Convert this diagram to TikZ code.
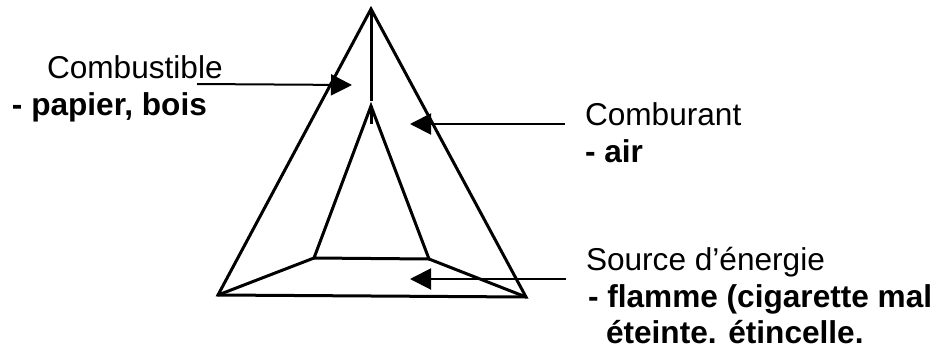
\documentclass[tikz,border=0pt]{standalone}
\usepackage{fontspec}
\setmainfont{Liberation Sans}
\usetikzlibrary{arrows.meta}
\tikzset{
  edge/.style={line width=3pt,line join=miter,draw=black},
  pointer/.style={line width=2pt,draw=black,-{Triangle[length=21pt,width=21pt]}},
  lab/.style={anchor=base west,inner sep=0pt,outer sep=0pt,font=\fontsize{31.6}{36}\selectfont,text=black},
  labb/.style={lab,font=\fontsize{31.6}{36}\selectfont\bfseries}
}
\begin{document}
\begin{tikzpicture}[x=1pt,y=-1pt]
\useasboundingbox (0,0) rectangle (941,351);
\coordinate (apex) at (371,9);
\coordinate (bl) at (218,295);
\coordinate (br) at (526,297);
\coordinate (stem) at (371,101);
\coordinate (itop) at (371,106);
\coordinate (itick) at (371,124);
\coordinate (il) at (314,258);
\coordinate (ir) at (429,259);
\draw[edge] (apex) -- (bl) -- (br) -- cycle;
\draw[edge] (apex) -- (stem);
\draw[edge] (il) -- (itop) -- (ir) -- cycle;
\draw[edge] (itop) -- (itick);
\draw[edge] (bl) -- (il);
\draw[edge] (br) -- (ir);
\node[lab] (combustible) at (47,78) {Combustible};
\node[labb] (papier) at (12,115) {- papier, bois};
\node[lab] (comburant) at (585,125) {Comburant};
\node[labb] (airtxt) at (585,162) {- air};
\node[lab] (source) at (586,270) {Source d’énergie};
\node[labb] (flamme) at (588,307) {- flamme (cigarette mal};
\node[labb] (eteinte) at (606,343) {éteinte. étincelle.};
\coordinate (s1) at (197,84); \coordinate (t1) at (352,85);
\coordinate (s2) at (565,124); \coordinate (t2) at (410,124);
\coordinate (s3) at (566,279); \coordinate (t3) at (410,279);
\draw[pointer] (s1) -- (t1);
\draw[pointer] (s2) -- (t2);
\draw[pointer] (s3) -- (t3);
\end{tikzpicture}
\end{document}
